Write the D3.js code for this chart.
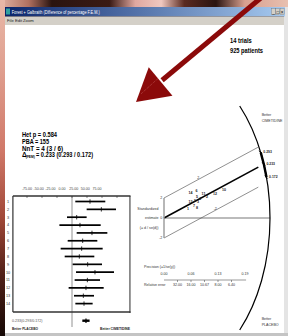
<!DOCTYPE html>
<html><head><meta charset="utf-8">
<script src="https://cdn.jsdelivr.net/npm/d3@7"></script>
<style>html,body{margin:0;padding:0;background:#fff;overflow:hidden}svg{display:block}text{font-family:"Liberation Sans",Arial,sans-serif}</style>
</head><body><svg id="c" width="288" height="336"></svg>
<script>
// ---- data ----
const trials = [1,2,3,4,5,6,7,8,9,10,11,12,13,14];
const effect = [30,48.9,7.8,13.3,33.3,17.8,16.1,12.2,26.1,38.3,25.6,23.3,18.9,20];
const lower  = [5.5,24.4,-8.3,-21,7.8,-7.2,-18.9,-12.2,1.1,6.7,4.4,-5.6,3.3,5.6];
const upper  = [55.5,73.3,24.4,47.8,58.9,42.2,51.1,37.2,50,70,46.7,52.8,36.7,34.4];
const pooled = [23.3, 17.2, 29.3]; // estimate, lower, upper
const forestTicks = [-75,-50,-25,0,25,50,75];
const forestTickLabels = ["-75.00","-50.00","-25.00","0.00","25.00","50.00","75.00"];
const gPrec = [0.0556,0.0995,0.0787,0.0833,0.0764,0.0752,0.0694,0.0764,0.0718,0.1389,0.0914,0.1181,0.0613,0.0613];
const gZ    = [0.9,2.1,1.65,1.95,2.15,2.7,1.25,1.0,1.7,2.85,2.45,2.4,1.65,2.5];
const precTicks = [0,0.0625,0.125,0.1875];
const precLabels = ["0.00","0.06","0.13","0.19"];
const relErr = [32,16,10.67,8,6.4];
const relErrLabels = ["32.00","16.00","10.67","8.00","6.40"];
const stats = ["Het  p = 0.584","PBA = 155","NnT = 4  (3 / 6)"];
const statsW = [35,27,41];

const svg = d3.select("#c");

// ---- background (desktop) ----
const defs = svg.append("defs");
const gt = defs.append("linearGradient").attr("id","gtop");
[[0,"#e2b2a4"],[0.1,"#b07060"],[0.18,"#2a1410"],[0.38,"#3a1a14"],[0.47,"#e0a8a0"],[0.56,"#f0c8c0"],[0.64,"#5a2a20"],[0.75,"#2a1410"],[0.85,"#d8a090"],[1,"#e8c0b0"]]
  .forEach(([o,c])=>gt.append("stop").attr("offset",o).attr("stop-color",c));
const gl = defs.append("linearGradient").attr("id","gleft").attr("x1",0).attr("x2",0).attr("y1",0).attr("y2",1);
[[0,"#e8b8a8"],[0.2,"#e0a090"],[0.45,"#d07868"],[0.65,"#a04838"],[0.82,"#502018"],[1,"#150805"]]
  .forEach(([o,c])=>gl.append("stop").attr("offset",o).attr("stop-color",c));
const gtitle = defs.append("linearGradient").attr("id","gtitle");
[[0,"#0a246a"],[1,"#a6caf0"]].forEach(([o,c])=>gtitle.append("stop").attr("offset",o).attr("stop-color",c));

svg.append("rect").attr("width",288).attr("height",336).attr("fill","#2a1410");
svg.append("rect").attr("width",288).attr("height",7).attr("fill","url(#gtop)");
svg.append("rect").attr("y",0).attr("width",5).attr("height",336).attr("fill","url(#gleft)");
svg.append("rect").attr("x",284).attr("y",7).attr("width",4).attr("height",329).attr("fill","#e4e4e4");

// ---- window ----
svg.append("rect").attr("x",5).attr("y",7).attr("width",280).attr("height",9.5).attr("fill","url(#gtitle)");
svg.append("rect").attr("x",6).attr("y",8.5).attr("width",4).attr("height",6).attr("fill","#2fa0a0");
svg.append("text").attr("x",11.7).attr("y",14).attr("fill","#fff").attr("font-size",4.6)
  .attr("textLength",88).attr("lengthAdjust","spacingAndGlyphs")
  .text("Forest + Galbraith (Difference of percentage F.E.M.)");
["_","□","×"].forEach((s,i)=>{
  const bx = 271.5 + i*4.3;
  svg.append("rect").attr("x",bx).attr("y",8.8).attr("width",4).attr("height",5.8).attr("fill","#d4d0c8").attr("stroke","#606060").attr("stroke-width",0.3);
  svg.append("text").attr("x",bx+2).attr("y",13.5).attr("font-size",4.5).attr("text-anchor","middle").attr("fill","#000").text(s);
});
svg.append("rect").attr("x",5).attr("y",16.5).attr("width",279).attr("height",8.5).attr("fill","#d4d0c8");
[["File",7],["Edit",15],["Zoom",23]].forEach(([t,x])=>svg.append("text").attr("x",x).attr("y",22).attr("font-size",4.2).attr("fill","#222").text(t));
svg.append("rect").attr("x",5).attr("y",25).attr("width",279).attr("height",308).attr("fill","#fff");
svg.append("rect").attr("x",5).attr("y",333).attr("width",283).attr("height",3).attr("fill","#c4c4c4");

// ---- annotation texts ----
svg.append("text").attr("x",230).attr("y",42.5).attr("font-size",7).attr("font-weight","bold")
  .attr("textLength",21.7).attr("lengthAdjust","spacingAndGlyphs").text("14 trials");
svg.append("text").attr("x",230).attr("y",52.5).attr("font-size",7).attr("font-weight","bold")
  .attr("textLength",33).attr("lengthAdjust","spacingAndGlyphs").text("925 patients");

stats.forEach((s,i)=>svg.append("text").attr("x",22).attr("y",137.3+i*6.6).attr("font-size",6.6).attr("font-weight","bold")
  .attr("textLength",statsW[i]).attr("lengthAdjust","spacingAndGlyphs").text(s));
svg.append("text").attr("x",22).attr("y",157.1).attr("font-size",6.6).attr("font-weight","bold").text("Δ");
svg.append("text").attr("x",25.8).attr("y",158.3).attr("font-size",3.8).attr("font-weight","bold")
  .attr("textLength",9).attr("lengthAdjust","spacingAndGlyphs").text("(FEM)");
svg.append("text").attr("x",36).attr("y",157.1).attr("font-size",6.6).attr("font-weight","bold")
  .attr("textLength",57).attr("lengthAdjust","spacingAndGlyphs")
  .text("= " + (pooled[0]/100).toFixed(3) + " (" + (pooled[2]/100).toFixed(3) + " / " + (pooled[1]/100).toFixed(3) + ")");

// ---- forest plot ----
const xF = d3.scaleLinear().domain([-100,100]).range([12,132]);
const xFLab = d3.scaleLinear().domain([-75,75]).range([27,97]);
const yF = d3.scaleLinear().domain([1,14]).range([201.5,303.6]);
const fTop = 196, fBot = 312;

svg.append("g").selectAll("text").data(forestTicks).join("text")
  .attr("x",(d)=>xFLab(d)).attr("y",190).attr("font-size",3.6).attr("text-anchor","middle").attr("fill","#444")
  .text((d,i)=>forestTickLabels[i]);

// zero line
svg.append("line").attr("x1",xF(0)).attr("x2",xF(0)).attr("y1",fTop).attr("y2",327).attr("stroke","#777").attr("stroke-width",0.8);
// frame
svg.append("line").attr("x1",xF(-98.5)).attr("x2",xF(-98.5)).attr("y1",fTop).attr("y2",fBot).attr("stroke","#333").attr("stroke-width",1.2);
svg.append("line").attr("x1",xF(96.5)).attr("x2",xF(96.5)).attr("y1",fTop).attr("y2",fBot+1).attr("stroke","#888").attr("stroke-width",1.8);
svg.append("line").attr("x1",xF(-98.5)).attr("x2",xF(97.5)).attr("y1",fTop).attr("y2",fTop).attr("stroke","#333").attr("stroke-width",1.6);
svg.append("line").attr("x1",xF(-98.5)).attr("x2",xF(97.5)).attr("y1",fBot).attr("y2",fBot).attr("stroke","#333").attr("stroke-width",1.6);
svg.append("g").selectAll("line").data(forestTicks).join("line")
  .attr("x1",(d)=>xF(d)).attr("x2",(d)=>xF(d)).attr("y1",fTop).attr("y2",fTop+2).attr("stroke","#333").attr("stroke-width",0.6);

// row labels
svg.append("g").selectAll("text").data(trials).join("text")
  .attr("x",8).attr("y",(d)=>yF(d)+1.4).attr("font-size",3.8).attr("text-anchor","middle").attr("fill","#333").text((d)=>d);
// CIs
svg.append("g").selectAll("line").data(trials).join("line")
  .attr("x1",(d,i)=>xF(lower[i])).attr("x2",(d,i)=>xF(upper[i]))
  .attr("y1",(d)=>yF(d)).attr("y2",(d)=>yF(d)).attr("stroke","#000").attr("stroke-width",1.7);
svg.append("g").selectAll("line").data(trials).join("line")
  .attr("x1",(d,i)=>xF(effect[i])).attr("x2",(d,i)=>xF(effect[i]))
  .attr("y1",(d)=>yF(d)-2.2).attr("y2",(d)=>yF(d)+2.2).attr("stroke","#000").attr("stroke-width",0.8);
// pooled
const yP = 320.7;
svg.append("line").attr("x1",xF(pooled[1])).attr("x2",xF(pooled[2])).attr("y1",yP).attr("y2",yP).attr("stroke","#000").attr("stroke-width",2.4);
svg.append("line").attr("x1",xF(pooled[0])).attr("x2",xF(pooled[0])).attr("y1",yP-2.3).attr("y2",yP+2.3).attr("stroke","#000").attr("stroke-width",1.2);
svg.append("text").attr("x",12).attr("y",322.3).attr("font-size",3.8).attr("fill","#555")
  .attr("textLength",30.5).attr("lengthAdjust","spacingAndGlyphs")
  .text((pooled[0]/100).toFixed(3)+"("+(pooled[2]/100).toFixed(3)+"/"+(pooled[1]/100).toFixed(3)+")");
svg.append("text").attr("x",12).attr("y",329.6).attr("font-size",3.8).attr("font-weight","bold").attr("fill","#222")
  .attr("textLength",26).attr("lengthAdjust","spacingAndGlyphs").text("Better PLACEBO");
svg.append("text").attr("x",100).attr("y",329.6).attr("font-size",3.8).attr("font-weight","bold").attr("fill","#222")
  .attr("textLength",30).attr("lengthAdjust","spacingAndGlyphs").text("Better CIMETIDINE");

// ---- Galbraith plot ----
const xG = d3.scaleLinear().domain([0,0.25]).range([164,272]);
const yG = d3.scaleLinear().domain([-2,2]).range([238,198]);
const arcP = 0.2454, arcZ = 16;
const cx = xG(0), cy = yG(0);
const rx = xG(arcP)-cx, ry = cy-yG(arcZ);
const ptOn = (a)=>[cx+rx*Math.cos(a), cy-ry*Math.sin(a)];
const a0 = Math.asin(0.7);
// estimate 0 line
svg.append("line").attr("x1",cx).attr("x2",xG(arcP)).attr("y1",cy).attr("y2",cy).attr("stroke","#bbb").attr("stroke-width",2);
// arc
const s = ptOn(a0), e = ptOn(-a0);
svg.append("path").attr("d",`M${s[0]},${s[1]} A${rx},${ry} 0 0 1 ${e[0]},${e[1]}`).attr("fill","none").attr("stroke","#000").attr("stroke-width",1.2);
// CI points on arc
const onArc = (d)=>{const p = 1/Math.sqrt(1/(arcP*arcP)+d*d/(arcZ*arcZ)); return [p, d*p];};
const ciVals = [pooled[2],pooled[0],pooled[1]];
const angOf = (d)=>{const [p,z]=onArc(d); const X=xG(p)-cx, Y=cy-yG(z); return Math.atan2(Y/ry, X/rx);};
const aHi = angOf(pooled[2]), aLo = angOf(pooled[1]);
const sh = ptOn(aHi), sl = ptOn(aLo);
svg.append("path").attr("d",`M${sh[0]},${sh[1]} A${rx},${ry} 0 0 1 ${sl[0]},${sl[1]}`).attr("fill","none").attr("stroke","#000").attr("stroke-width",2.4);
ciVals.forEach((d)=>{
  const [p,z] = onArc(d);
  const X = xG(p), Y = yG(z);
  svg.append("line").attr("x1",X-1.6).attr("y1",Y-1.6).attr("x2",X+1.2).attr("y2",Y+1.4).attr("stroke","#000").attr("stroke-width",0.9);
  svg.append("text").attr("x",X+2.6).attr("y",Y+0.8).attr("font-size",3.8).attr("font-weight","bold").attr("fill","#222")
    .attr("textLength",8.5).attr("lengthAdjust","spacingAndGlyphs").text((d/100).toFixed(3));
});
// regression + bands
const pEnd = 0.2183;
[[0,1.6,"#000"],[2,0.6,"#444"],[-2,0.6,"#444"]].forEach(([off,w,c])=>{
  svg.append("line").attr("x1",xG(0)).attr("y1",yG(off)).attr("x2",xG(pEnd)).attr("y2",yG(pooled[0]*pEnd+off))
    .attr("stroke",c).attr("stroke-width",w);
});
svg.append("text").attr("x",xG(0.077)).attr("y",yG(pooled[0]*0.077+2)-1).attr("font-size",3.6).attr("fill","#333").text("2");
svg.append("text").attr("x",xG(0.115)).attr("y",yG(pooled[0]*0.115-2)-1.2).attr("font-size",3.6).attr("fill","#333").text("-2");
// y axis
svg.append("line").attr("x1",cx).attr("x2",cx).attr("y1",yG(2)).attr("y2",yG(-2)).attr("stroke","#999").attr("stroke-width",1.4);
[[2,"2"],[0,"0"],[-2,"-2"]].forEach(([v,t])=>svg.append("text").attr("x",cx-1.8).attr("y",yG(v)+1.4).attr("font-size",3.6).attr("text-anchor","end").attr("fill","#333").text(t));
svg.append("text").attr("x",158.5).attr("y",yG(0.9)+1.3).attr("font-size",3.6).attr("text-anchor","end").attr("fill","#333").text("Standardized");
svg.append("text").attr("x",158.5).attr("y",yG(0)+1.4).attr("font-size",3.6).attr("text-anchor","end").attr("fill","#333").text("estimate");
svg.append("text").attr("x",158.5).attr("y",yG(-1)+1.3).attr("font-size",3.6).attr("text-anchor","end").attr("fill","#333").text("(= d / se(d))");
// points
svg.append("g").selectAll("text").data(trials).join("text")
  .attr("x",(d,i)=>xG(gPrec[i])).attr("y",(d,i)=>yG(gZ[i])+1.3).attr("font-size",3.6).attr("font-weight","bold")
  .attr("text-anchor","middle").attr("fill","#222").text((d)=>d);
// precision axis
const yAx = 280;
svg.append("line").attr("x1",xG(0)).attr("x2",xG(0.19)).attr("y1",yAx).attr("y2",yAx).attr("stroke","#555").attr("stroke-width",0.6);
svg.append("g").selectAll("line").data(relErr).join("line")
  .attr("x1",(d)=>xG(1/d)).attr("x2",(d)=>xG(1/d)).attr("y1",yAx).attr("y2",yAx+2).attr("stroke","#555").attr("stroke-width",0.6);
svg.append("g").selectAll("text").data(precTicks).join("text")
  .attr("x",(d)=>xG(d)).attr("y",yAx-5).attr("font-size",3.6).attr("text-anchor","middle").attr("fill","#333").text((d,i)=>precLabels[i]);
svg.append("g").selectAll("text").data(relErr).join("text")
  .attr("x",(d)=>xG(1/d)).attr("y",yAx+6.3).attr("font-size",3.6).attr("text-anchor","middle").attr("fill","#333").text((d,i)=>relErrLabels[i]);
svg.append("text").attr("x",144).attr("y",268).attr("font-size",3.6).attr("fill","#333").text("Precision (=1/se(y))");
svg.append("text").attr("x",144).attr("y",286.3).attr("font-size",3.6).attr("fill","#333").text("Relative error");
// better labels
[["Better",115.5],["CIMETIDINE",121.5]].forEach(([t,y])=>svg.append("text").attr("x",261.7).attr("y",y).attr("font-size",3.6).attr("fill","#333").text(t));
[["Better",319.5],["PLACEBO",325.5]].forEach(([t,y])=>svg.append("text").attr("x",261.7).attr("y",y).attr("font-size",3.6).attr("fill","#333").text(t));

// ---- red arrow overlay ----
const tail = [262,-3], tip = [136,102];
const dx = tail[0]-tip[0], dy = tail[1]-tip[1], L = Math.hypot(dx,dy);
const ux = dx/L, uy = dy/L, px = -uy, py = ux;
const hl = 32, hw = 18.5;
const bm = [tip[0]+ux*hl, tip[1]+uy*hl];
svg.append("line").attr("x1",tail[0]).attr("y1",tail[1]).attr("x2",bm[0]+ux*2).attr("y2",bm[1]+uy*2).attr("stroke","#8b0a0a").attr("stroke-width",5);
svg.append("path").attr("d",`M${tip[0]},${tip[1]} L${bm[0]+px*hw},${bm[1]+py*hw} L${bm[0]-px*hw},${bm[1]-py*hw} Z`).attr("fill","#8b0a0a");
svg.append("line").attr("x1",bm[0]-px*4).attr("y1",bm[1]-py*4).attr("x2",tip[0]+ux*8-px*3).attr("y2",tip[1]+uy*8-py*3).attr("stroke","#d88080").attr("stroke-width",0.5).attr("stroke-dasharray","1,1");
</script></body></html>
